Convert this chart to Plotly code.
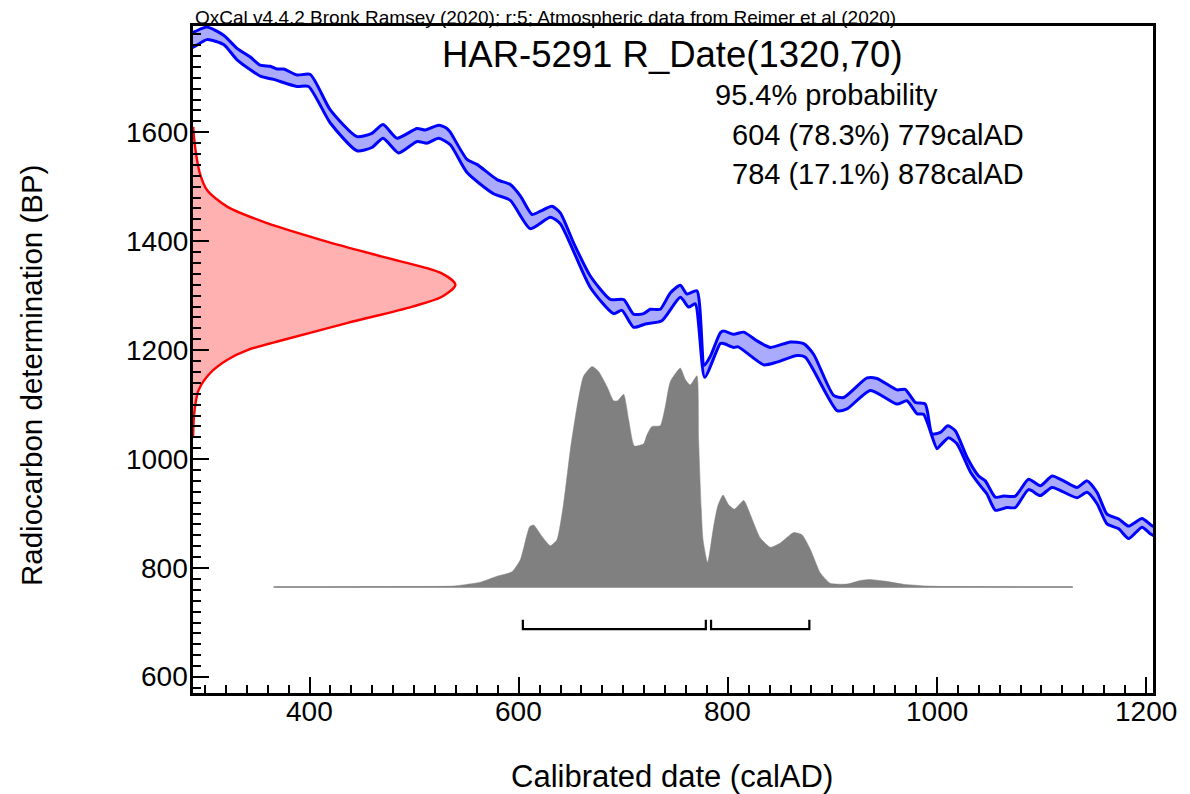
import plotly.graph_objects as go

# ---------------- data ----------------
X_RANGE = [288.5, 1206.7]
Y_RANGE = [570.6, 1795.0]
x_ticks = [400, 600, 800, 1000, 1200]
y_ticks = [600, 800, 1000, 1200, 1400, 1600]

# calibration curve band (IntCal20), upper edge
cal_up_x = [284.0, 290.7, 301.9, 317.8, 330.6, 343.3, 352.9, 362.4, 368.9, 375.2, 387.9, 400.7,
            419.8, 445.3, 459.6, 470.3, 483.6, 502.8, 510.7, 523.4, 531.4, 534.6, 550.6, 560.1,
            579.3, 592.0, 601.6, 612.8, 620.7, 631.9, 639.8, 652.5, 668.5, 687.7, 700.4, 709.9,
            719.5, 725.9, 735.4, 745.0, 754.6, 761.0, 770.5, 777.5, 783.4, 792.9, 796.1, 805.6,
            815.3, 828.0, 840.8, 859.8, 872.5, 882.2, 901.2, 910.8, 933.2, 942.7, 961.9, 969.7,
            979.4, 988.9, 995.4, 1003.3, 1010.5, 1017.6, 1028.9, 1039.9, 1046.3, 1055.9, 1063.8,
            1075.0, 1087.7, 1099.0, 1110.2, 1121.2, 1134.0, 1143.6, 1153.2, 1162.7, 1173.9,
            1183.4, 1196.2, 1204.1, 1212.0]
cal_up_y = [1778, 1785, 1793, 1778, 1754, 1738, 1723, 1721, 1716, 1716, 1705, 1706,
            1641, 1592, 1598, 1614, 1589, 1607, 1604, 1613, 1607, 1600, 1550, 1541,
            1513, 1504, 1483, 1449, 1455, 1464, 1452, 1397, 1336, 1293, 1293, 1266,
            1267, 1275, 1275, 1305, 1319, 1303, 1309, 1172, 1189, 1232, 1235, 1229,
            1233, 1217, 1205, 1215, 1212, 1192, 1117, 1113, 1149, 1148, 1127, 1128,
            1104, 1101, 1046, 1049, 1061, 1052, 1003, 969, 960, 930, 932,
            932, 963, 951, 969, 960, 948, 960, 939, 899, 890,
            877, 891, 880, 870]

# calibration curve band, lower edge
cal_lo_x = [284.0, 290.7, 301.9, 317.8, 330.6, 352.9, 365.6, 387.9, 399.0, 419.8, 445.3, 459.6,
            470.3, 485.2, 502.8, 512.3, 523.4, 534.6, 550.6, 576.0, 592.0, 611.1, 630.3, 639.8,
            668.5, 690.8, 698.8, 709.9, 721.1, 737.0, 754.6, 762.6, 768.9, 777.9, 792.9, 796.1,
            805.6, 810.0, 834.3, 847.0, 866.2, 874.2, 904.5, 914.0, 936.4, 961.9, 971.4, 981.1,
            987.3, 1000.1, 1003.3, 1011.3, 1019.2, 1032.2, 1043.2, 1047.9, 1055.9, 1067.1,
            1075.0, 1087.7, 1099.0, 1110.2, 1134.0, 1143.6, 1153.2, 1162.7, 1173.9, 1183.4,
            1196.2, 1204.1, 1212.0]
cal_lo_y = [1752, 1758, 1770, 1761, 1733, 1703, 1697, 1684, 1684, 1617, 1566, 1572,
            1589, 1562, 1583, 1580, 1589, 1577, 1526, 1487, 1475, 1423, 1444, 1432,
            1315, 1267, 1273, 1242, 1248, 1254, 1297, 1279, 1285, 1150, 1212, 1212,
            1205, 1206, 1173, 1178, 1190, 1187, 1089, 1092, 1126, 1101, 1107, 1083,
            1082, 1019, 1025, 1039, 1028, 976, 947, 936, 906, 911,
            911, 944, 933, 948, 929, 939, 918, 881, 872, 854,
            875, 863, 855]

# radiocarbon measurement R_Date(1320,70): BP value and drawn width (years of x-axis)
meas_bp = [1040, 1060, 1080, 1100, 1127, 1158, 1182, 1200, 1219, 1250, 1280, 1298, 1320,
           1341, 1372, 1402, 1433, 1463, 1494, 1525, 1562, 1590, 1610]
meas_w = [0.1, 0.4, 1.0, 2.2, 5.4, 16.5, 32.5, 52, 87, 148, 210, 238, 251,
          238, 180, 123, 71, 33, 13.4, 6.5, 2.8, 1.0, 0.2]

# calibrated probability distribution (drawn in BP units above its baseline)
DIST_BASE = 765
dist_x = [365.6, 450, 500, 537.8, 563.3, 579.3, 593.6, 601.6, 610.5, 614.3, 622.3, 630.3,
          636.6, 643.0, 649.4, 655.8, 662.0, 670.2, 676.4, 684.5, 690.8, 694.6, 700.4,
          705.2, 710.6, 719.5, 722.8, 727.5, 735.4, 740.2, 745.0, 754.6, 759.4, 764.1,
          770.5, 772.1, 776.3, 780.7, 786.4, 790.3, 795.4, 800.8, 806.3, 815.3, 821.6,
          831.1, 840.8, 850.3, 863.0, 871.0, 879.0, 888.5, 898.0, 914.0, 926.7, 935.4,
          950, 967.7, 990, 1010, 1130]
dist_y = [765, 765.5, 766, 767, 774, 785, 793, 815, 876, 879, 858, 841,
          852, 919, 1017, 1096, 1152, 1170, 1161, 1133, 1107, 1107, 1119,
          1072, 1024, 1028, 1045, 1060, 1061, 1096, 1142, 1167, 1146, 1136,
          1153, 1035, 852, 810, 876, 913, 934, 916, 908, 924, 898,
          855, 838, 846, 865, 861, 834, 791, 772, 770.5, 777, 779,
          776, 770.3, 767, 766, 765]

# 95.4% ranges
ranges = [(604, 779), (784, 878)]
RANGE_Y = 688
RANGE_TICK_Y = 705

caption = "OxCal v4.4.2 Bronk Ramsey (2020); r:5; Atmospheric data from Reimer et al (2020)"
title = "HAR-5291 R_Date(1320,70)"
prob_lines = ["95.4% probability", "604 (78.3%) 779calAD", "784 (17.1%) 878calAD"]
x_title = "Calibrated date (calAD)"
y_title = "Radiocarbon determination (BP)"

FONT = "Liberation Sans, Arial, sans-serif"

# ---------------- figure ----------------
fig = go.Figure()

# calibration band fill
fig.add_trace(go.Scatter(
    x=cal_up_x + cal_lo_x[::-1], y=cal_up_y + cal_lo_y[::-1],
    fill="toself", fillcolor="#aaaaff", line=dict(width=0, shape="spline", smoothing=0.6),
    mode="lines", hoverinfo="skip", showlegend=False))
for xs, ys in ((cal_up_x, cal_up_y), (cal_lo_x, cal_lo_y)):
    fig.add_trace(go.Scatter(x=xs, y=ys, mode="lines",
                             line=dict(color="#0000ff", width=3, shape="spline", smoothing=0.6),
                             showlegend=False, hoverinfo="skip"))

# measurement distribution (red) on the y axis
fig.add_trace(go.Scatter(
    x=[X_RANGE[0] + w for w in meas_w], y=meas_bp, mode="lines",
    fill="tozerox", fillcolor="#ffb0b0",
    line=dict(color="#ff0000", width=2.4, shape="spline", smoothing=0.8),
    showlegend=False, hoverinfo="skip"))

# calibrated distribution (grey)
fig.add_trace(go.Scatter(
    x=dist_x, y=dist_y, mode="lines", fill="toself", fillcolor="#808080",
    line=dict(color="#808080", width=0.5, shape="spline", smoothing=0.5),
    showlegend=False, hoverinfo="skip"))
fig.add_trace(go.Scatter(
    x=[dist_x[0], dist_x[-1]], y=[DIST_BASE, DIST_BASE], mode="lines",
    line=dict(color="#808080", width=1.5), showlegend=False, hoverinfo="skip"))

# range brackets
bx, by = [], []
for a, b in ranges:
    bx += [a, a, b, b, None]
    by += [RANGE_TICK_Y, RANGE_Y, RANGE_Y, RANGE_TICK_Y, None]
fig.add_trace(go.Scatter(x=bx, y=by, mode="lines",
                         line=dict(color="black", width=2.2),
                         showlegend=False, hoverinfo="skip"))

axis_common = dict(
    showgrid=False, zeroline=False, showline=True, linecolor="black", linewidth=3,
    mirror=True, ticks="inside", ticklen=16, tickwidth=2, tickcolor="black",
    showticklabels=False,
)
fig.update_xaxes(range=X_RANGE, tickvals=x_ticks,
                 minor=dict(ticks="inside", dtick=20, tick0=0, ticklen=8,
                            tickwidth=1.5, tickcolor="black"),
                 **axis_common)
fig.update_yaxes(range=Y_RANGE, tickvals=y_ticks,
                 minor=dict(ticks="inside", dtick=20, tick0=0, ticklen=8,
                            tickwidth=1.5, tickcolor="black"),
                 **axis_common)

PL, PR, PT, PB = 193, 37, 26, 101
W, H = 1190, 794
pw, ph = W - PL - PR, H - PT - PB


def px(xp):
    return (xp - PL) / pw


def py(yp):
    return (H - PB - yp) / ph


ann = [
    dict(text=caption, x=0, y=1, xanchor="left", yanchor="bottom",
         font=dict(family=FONT, size=19, color="black"), yshift=-4),
    dict(text=title, x=px(672), y=py(55), xanchor="center", yanchor="middle",
         font=dict(family=FONT, size=36.5, color="black")),
    dict(text=prob_lines[0], x=px(713), y=py(95), xanchor="left", yanchor="middle",
         font=dict(family=FONT, size=29, color="black")),
    dict(text=prob_lines[1], x=px(730), y=py(135), xanchor="left", yanchor="middle",
         font=dict(family=FONT, size=29, color="black")),
    dict(text=prob_lines[2], x=px(730), y=py(174), xanchor="left", yanchor="middle",
         font=dict(family=FONT, size=29, color="black")),
    dict(text=x_title, x=px(672), y=py(776), xanchor="center", yanchor="middle",
         font=dict(family=FONT, size=31, color="black")),
    dict(text=y_title, x=px(31), y=py(376), xanchor="center", yanchor="middle",
         textangle=-90, font=dict(family=FONT, size=29.5, color="black")),
]
for a in ann:
    a.update(xref="paper", yref="paper")

# tick labels placed at the axis values
for v in x_ticks:
    ann.append(dict(text=str(v), x=v, xref="x", y=py(711), yref="paper",
                    xanchor="center", yanchor="middle",
                    font=dict(family=FONT, size=28, color="black")))
for v in y_ticks:
    ann.append(dict(text=str(v), x=px(190), xref="paper", y=v, yref="y",
                    xanchor="right", yanchor="middle",
                    font=dict(family=FONT, size=28, color="black")))
for a in ann:
    a.update(showarrow=False)

fig.update_layout(
    width=W, height=H, margin=dict(l=PL, r=PR, t=PT, b=PB, pad=0),
    paper_bgcolor="white", plot_bgcolor="white",
    annotations=ann, showlegend=False,
)

fig.write_html("out.html")
